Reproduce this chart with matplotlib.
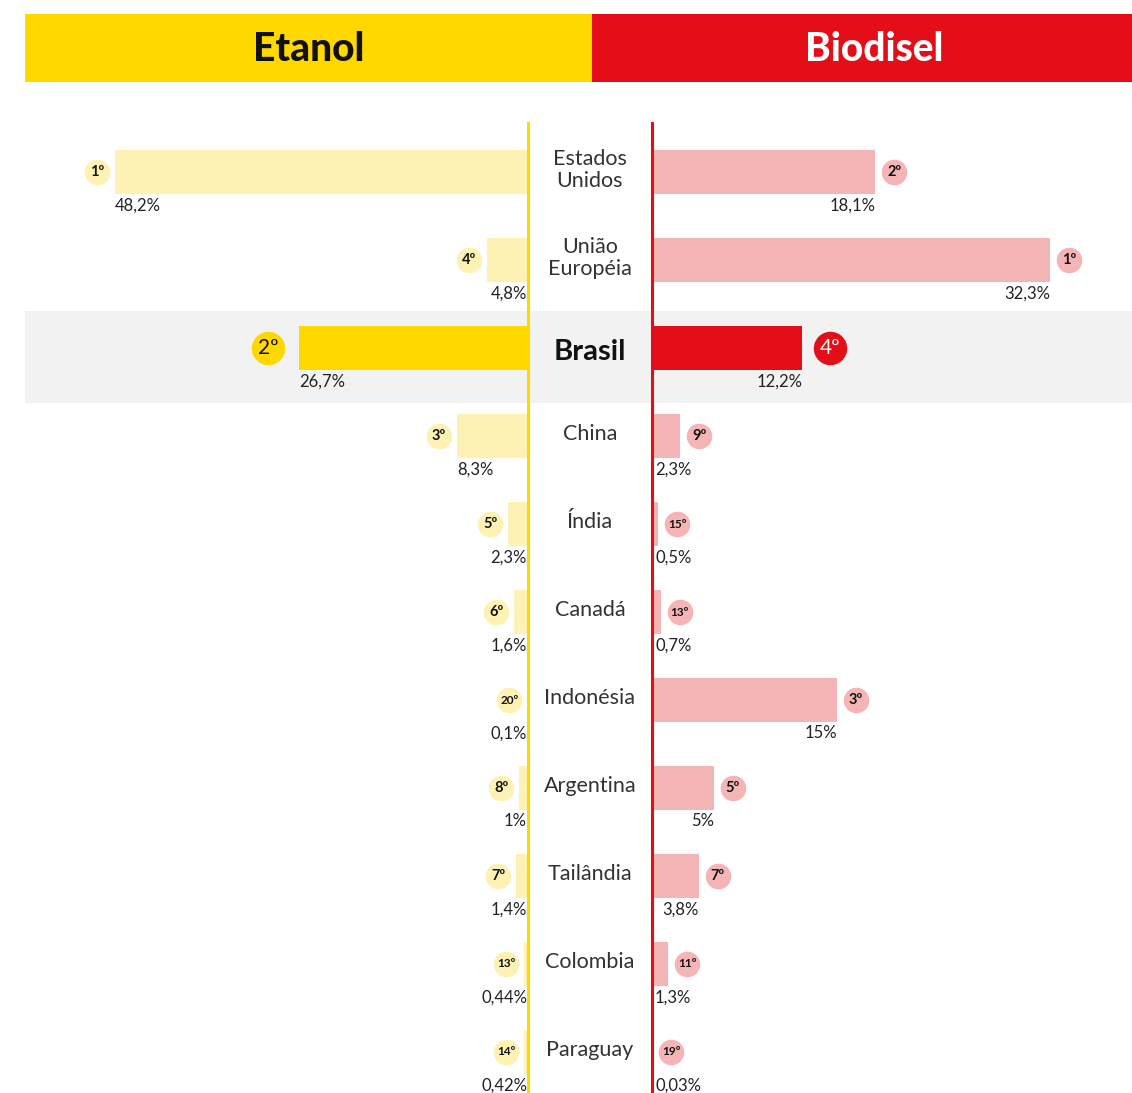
import matplotlib
matplotlib.use("Agg")
import matplotlib.pyplot as plt
from matplotlib.transforms import offset_copy
from matplotlib.patches import Rectangle

plt.rcParams['font.family'] = ['Lato', 'DejaVu Sans']

countries = ["Estados\nUnidos", "União\nEuropéia", "Brasil", "China", "Índia", "Canadá",
             "Indonésia", "Argentina", "Tailândia", "Colombia", "Paraguay"]
etanol = [48.2, 4.8, 26.7, 8.3, 2.3, 1.6, 0.1, 1.0, 1.4, 0.44, 0.42]
etanol_rank = [1, 4, 2, 3, 5, 6, 20, 8, 7, 13, 14]
biodisel = [18.1, 32.3, 12.2, 2.3, 0.5, 0.7, 15, 5, 3.8, 1.3, 0.03]
biodisel_rank = [2, 1, 4, 9, 15, 13, 3, 5, 7, 11, 19]
highlight = "Brasil"
titles = ["Etanol", "Biodisel"]

YEL = "#FFD800"
YEL_L = "#FEF1B4"
RED = "#E30E17"
RED_L = "#F5B5B6"
GRAY = "#F2F2F2"

W, H = 1132, 1093
fig = plt.figure(figsize=(W / 100, H / 100), dpi=100)


def rect(x0, y0, x1, y1):
    return [x0 / W, 1 - y1 / H, (x1 - x0) / W, (y1 - y0) / H]


def fmt(v):
    return f"{v:g}".replace(".", ",") + "%"


# header
axh = fig.add_axes(rect(25, 14, 1132, 82))
axh.set_xlim(0, 2)
axh.set_ylim(0, 1)
axh.axis("off")
axh.add_patch(Rectangle((0, 0), 1.025, 1, color=YEL, lw=0))
axh.add_patch(Rectangle((1.025, 0), 0.975, 1, color=RED, lw=0))
axh.text(0.5125, 0.48, titles[0], ha="center", va="center", fontsize=28, fontweight="black", color="#111111")
axh.text(1.535, 0.48, titles[1], ha="center", va="center", fontsize=28, fontweight="black", color="white")

n = len(countries)
ylim = (10.466, -0.557)
rows = list(range(n))

# background axes
axb = fig.add_axes(rect(25, 123, 1132, 1093))
axb.set_ylim(*ylim)
axb.set_xlim(0, 1)
axb.axis("off")
hi = countries.index(highlight)
axb.axhspan(hi - 0.42, hi + 0.62, color=GRAY, lw=0, zorder=0)
for i, c in enumerate(countries):
    if c == highlight:
        axb.text(0.5103, i + 0.04, c, ha="center", va="center", fontsize=21, fontweight="bold", color="#111111")
    else:
        axb.text(0.5103, i - 0.02, c, ha="center", va="center", fontsize=15.5, color="#333333", linespacing=1.1)

# left axes (etanol)
axl = fig.add_axes(rect(25, 123, 528, 1093))
axl.set_facecolor("none")
axl.set_xlim(503 / 8.57, 0)
axl.set_ylim(*ylim)
colors_l = [YEL if c == highlight else YEL_L for c in countries]
axl.barh(rows, etanol, height=0.5, color=colors_l, lw=0)
for s in ["left", "top", "bottom"]:
    axl.spines[s].set_visible(False)
axl.spines["right"].set_color(YEL)
axl.spines["right"].set_linewidth(2.2)
axl.set_xticks([])
axl.set_yticks([])

# right axes (biodisel)
axr = fig.add_axes(rect(652, 123, 1132, 1093))
axr.set_facecolor("none")
axr.set_xlim(0, 480 / 12.33)
axr.set_ylim(*ylim)
colors_r = [RED if c == highlight else RED_L for c in countries]
axr.barh(rows, biodisel, height=0.5, color=colors_r, lw=0)
for s in ["right", "top", "bottom"]:
    axr.spines[s].set_visible(False)
axr.spines["left"].set_color(RED)
axr.spines["left"].set_linewidth(2.2)
axr.set_xticks([])
axr.set_yticks([])

# value labels
LY = 0.38
LFS = 12
for i, v in enumerate(etanol):
    if v >= 5.0:
        axl.text(v, i + LY, fmt(v), ha="left", va="center", fontsize=LFS, color="#222222")
    else:
        t = offset_copy(axl.transData, fig=fig, x=-1, y=0, units="dots")
        axl.text(0, i + LY, fmt(v), ha="right", va="center", fontsize=LFS, color="#222222", transform=t)
for i, v in enumerate(biodisel):
    if v >= 3.5:
        axr.text(v, i + LY, fmt(v), ha="right", va="center", fontsize=LFS, color="#222222")
    else:
        t = offset_copy(axr.transData, fig=fig, x=3, y=0, units="dots")
        axr.text(0, i + LY, fmt(v), ha="left", va="center", fontsize=LFS, color="#222222", transform=t)

# rank badges
for i, (v, r) in enumerate(zip(etanol, etanol_rank)):
    big = countries[i] == highlight
    dx = -31 if big else -18
    t = offset_copy(axl.transData, fig=fig, x=dx, y=0, units="dots")
    axl.scatter([v], [i], s=(580 if big else 340), color=(YEL if big else YEL_L), lw=0, transform=t, zorder=3, clip_on=False)
    fs = 15 if big else (10.5 if r < 10 else 8.5)
    axl.text(v, i, f"{r}º", ha="center", va="center", fontsize=fs, transform=t, zorder=4,
             color="#111111", fontweight="bold" if not big else "normal")
for i, (v, r) in enumerate(zip(biodisel, biodisel_rank)):
    big = countries[i] == highlight
    dx = 28 if big else 19
    t = offset_copy(axr.transData, fig=fig, x=dx, y=0, units="dots")
    axr.scatter([v], [i], s=(580 if big else 340), color=(RED if big else RED_L), lw=0, transform=t, zorder=3, clip_on=False)
    fs = 15 if big else (10.5 if r < 10 else 8.5)
    axr.text(v, i, f"{r}º", ha="center", va="center", fontsize=fs, transform=t, zorder=4,
             color=("white" if big else "#111111"), fontweight="bold" if not big else "normal")

fig.savefig("out.png", dpi=100, facecolor="white")
